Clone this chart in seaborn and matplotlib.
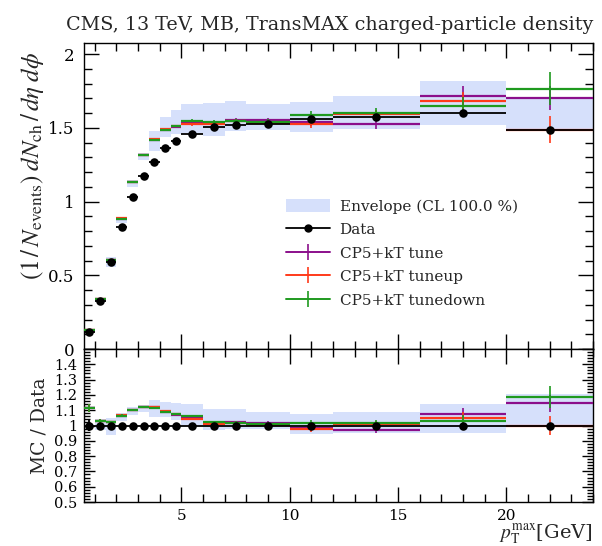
import numpy as np
import matplotlib
matplotlib.use("Agg")
import matplotlib.pyplot as plt
from matplotlib.ticker import MultipleLocator, FixedLocator, FuncFormatter
from matplotlib.lines import Line2D
from matplotlib.patches import Patch
import seaborn as sns
import pandas as pd

# ---------------- data ----------------
bin_edges = [0.5, 1.0, 1.5, 2.0, 2.5, 3.0, 3.5, 4.0, 4.5, 5.0, 6.0, 7.0, 8.0, 10.0, 12.0, 16.0, 20.0, 24.0]

data_vals = [0.115, 0.327, 0.592, 0.829, 1.028, 1.174, 1.269, 1.364, 1.409, 1.458,
             1.506, 1.522, 1.526, 1.563, 1.574, 1.599, 1.488]
data_errs = [0.004, 0.005, 0.006, 0.008, 0.008, 0.009, 0.010, 0.010, 0.012, 0.020,
             0.012, 0.012, 0.012, 0.015, 0.015, 0.018, 0.020]

tune_vals = [0.128, 0.336, 0.604, 0.883, 1.131, 1.313, 1.419, 1.487, 1.508, 1.538,
             1.533, 1.555, 1.553, 1.536, 1.524, 1.716, 1.704]
tune_errs = [0.003, 0.004, 0.005, 0.006, 0.006, 0.007, 0.007, 0.008, 0.008, 0.010,
             0.012, 0.014, 0.016, 0.025, 0.030, 0.065, 0.080]

tuneup_vals = [0.128, 0.337, 0.604, 0.887, 1.131, 1.315, 1.425, 1.491, 1.512, 1.524,
               1.523, 1.545, 1.534, 1.524, 1.593, 1.681, 1.488]
tuneup_errs = [0.003, 0.004, 0.005, 0.006, 0.006, 0.007, 0.007, 0.008, 0.008, 0.010,
               0.012, 0.014, 0.016, 0.028, 0.030, 0.060, 0.090]

tunedown_vals = [0.128, 0.337, 0.606, 0.883, 1.131, 1.315, 1.415, 1.487, 1.512, 1.548,
                 1.541, 1.549, 1.541, 1.590, 1.601, 1.649, 1.766]
tunedown_errs = [0.003, 0.004, 0.005, 0.006, 0.006, 0.007, 0.007, 0.008, 0.008, 0.010,
                 0.012, 0.014, 0.016, 0.025, 0.030, 0.060, 0.110]

# envelope in the main panel
env_lo = [0.125, 0.317, 0.556, 0.854, 1.100, 1.280, 1.343, 1.438, 1.460, 1.462,
          1.445, 1.478, 1.485, 1.472, 1.490, 1.518, 1.484]
env_hi = [0.131, 0.340, 0.621, 0.895, 1.148, 1.331, 1.481, 1.575, 1.619, 1.662,
          1.670, 1.683, 1.658, 1.675, 1.715, 1.818, 1.705]
# envelope in the ratio panel
renv_lo = [1.100, 0.970, 0.938, 1.030, 1.070, 1.090, 1.058, 1.054, 1.036, 1.003,
           0.970, 0.980, 0.980, 0.942, 0.953, 0.949, 0.997]
renv_hi = [1.130, 1.040, 1.050, 1.080, 1.120, 1.134, 1.167, 1.155, 1.149, 1.140,
           1.110, 1.106, 1.090, 1.075, 1.090, 1.140, 1.206]

series_names = ["CP5+kT tune", "CP5+kT tuneup", "CP5+kT tunedown"]
series_colors = ["#8b0f8b", "#ff3a1a", "#1f9a1f"]

title_text = "CMS, 13 TeV, MB, TransMAX charged-particle density"
env_label = "Envelope (CL 100.0 %)"
data_label = "Data"

# ---------------- style ----------------
sns.set_theme(style="ticks")
plt.rcParams["font.family"] = ["DejaVu Serif"]
plt.rcParams["mathtext.fontset"] = "stix"

edges = np.array(bin_edges)
lo = edges[:-1]
hi = edges[1:]
ctr = 0.5 * (lo + hi)
hw = 0.5 * (hi - lo)
data = np.array(data_vals)
derr = np.array(data_errs)

fig = plt.figure(figsize=(6.02, 5.46), dpi=100)
ax = fig.add_axes([84 / 602, 1 - 349 / 546, (593 - 84) / 602, (349 - 43) / 546])
axr = fig.add_axes([84 / 602, 1 - 502 / 546, (593 - 84) / 602, (502 - 349) / 546], sharex=ax)

env_color = "#d6e0fb"
series_vals = [tune_vals, tuneup_vals, tunedown_vals]
series_errs = [tune_errs, tuneup_errs, tunedown_errs]

# main panel
ax.bar(lo, np.array(env_hi) - np.array(env_lo), width=hi - lo, bottom=env_lo,
       align="edge", color=env_color, linewidth=0, zorder=1)
for vals, errs, col in zip(series_vals, series_errs, series_colors):
    v = np.array(vals); e = np.array(errs)
    ax.hlines(v, lo, hi, colors=col, lw=1.6, zorder=3)
    ax.vlines(ctr, v - e, v + e, colors=col, lw=1.2, zorder=3)
ax.errorbar(ctr, data, xerr=hw, yerr=derr, fmt="none", ecolor="black", elinewidth=1.3, zorder=4)
df = pd.DataFrame({"x": ctr, "y": data})
sns.scatterplot(data=df, x="x", y="y", ax=ax, color="black", s=38, edgecolor="black",
                linewidth=0, zorder=5, legend=False)

# ratio panel
axr.bar(lo, np.array(renv_hi) - np.array(renv_lo), width=hi - lo, bottom=renv_lo,
        align="edge", color=env_color, linewidth=0, zorder=1)
for vals, errs, col in zip(series_vals, series_errs, series_colors):
    r = np.array(vals) / data; e = np.array(errs) / data
    axr.hlines(r, lo, hi, colors=col, lw=1.6, zorder=3)
    axr.vlines(ctr, r - e, r + e, colors=col, lw=1.2, zorder=3)
axr.errorbar(ctr, np.ones_like(data), xerr=hw, yerr=derr / data, fmt="none",
             ecolor="black", elinewidth=1.3, zorder=4)
dfr = pd.DataFrame({"x": ctr, "y": np.ones_like(data)})
sns.scatterplot(data=dfr, x="x", y="y", ax=axr, color="black", s=38, edgecolor="black",
                linewidth=0, zorder=5, legend=False)

# axes ranges & ticks
ax.set_xlim(0.5, 24)
ax.set_ylim(0, 2.075)
axr.set_ylim(0.5, 1.5)

fmt = FuncFormatter(lambda v, p: "%g" % round(v, 3))
for a in (ax, axr):
    a.xaxis.set_major_locator(MultipleLocator(5))
    a.xaxis.set_minor_locator(MultipleLocator(1))
    a.tick_params(which="both", direction="in", top=True, right=True, width=1.0, colors="black",
                  labelsize=12)
    a.tick_params(which="major", length=11)
    a.tick_params(which="minor", length=5.5)
    for s in a.spines.values():
        s.set_linewidth(1.0)
        s.set_color("black")
    a.set_xlabel("")
    a.set_ylabel("")

ax.yaxis.set_major_locator(MultipleLocator(0.5))
ax.yaxis.set_minor_locator(MultipleLocator(0.1))
ax.yaxis.set_major_formatter(fmt)
ax.tick_params(axis="x", labelbottom=False)
ax.tick_params(axis="y", pad=7)

axr.yaxis.set_major_locator(FixedLocator([0.5, 0.6, 0.7, 0.8, 0.9, 1.0, 1.1, 1.2, 1.3, 1.4, 1.5]))
axr.yaxis.set_minor_locator(MultipleLocator(0.02))
axr.yaxis.set_major_formatter(FuncFormatter(lambda v, p: "" if v > 1.45 else "%g" % round(v, 3)))
axr.xaxis.set_major_formatter(fmt)
axr.tick_params(which="major", axis="y", length=8, labelsize=10.5, pad=5)
axr.tick_params(which="minor", axis="y", length=4.5)
axr.tick_params(axis="x", pad=5, labelsize=11)

# labels
fig.text(593 / 602, 1 - 30 / 546, title_text, ha="right", va="baseline", fontsize=13.8)
ax.set_ylabel(r"$\left(1\,/\,N_{\mathrm{events}}\right)\;dN_{\mathrm{ch}}\,/\,d\eta\;d\phi$",
              fontsize=18, loc="top")
ax.yaxis.set_label_coords(-0.075, 0.97)
axr.set_ylabel("MC / Data", fontsize=13.5)
axr.yaxis.set_label_coords(-0.07, 0.5)
axr.set_xlabel(r"$p_{\mathrm{T}}^{\mathrm{max}}$[GeV]", fontsize=14)
axr.xaxis.set_label_coords(1.0, -0.235)
axr.xaxis.label.set_horizontalalignment("right")
axr.xaxis.label.set_verticalalignment("baseline")

# legend
handles = [
    Patch(facecolor=env_color, edgecolor="none", label=env_label),
    Line2D([0], [0], color="black", lw=1.3, marker="o", markersize=5, label=data_label),
]
for name, col in zip(series_names, series_colors):
    handles.append(Line2D([0], [0], color=col, lw=1.4, marker="|", markersize=11,
                          markeredgewidth=1.2, label=name))
ax.legend(handles=handles, loc="upper left", bbox_to_anchor=(0.385, 0.51), frameon=False,
          fontsize=11, handlelength=2.9, handleheight=0.9, handletextpad=0.6, labelspacing=0.58,
          borderaxespad=0)

fig.savefig("out.png", dpi=100)
